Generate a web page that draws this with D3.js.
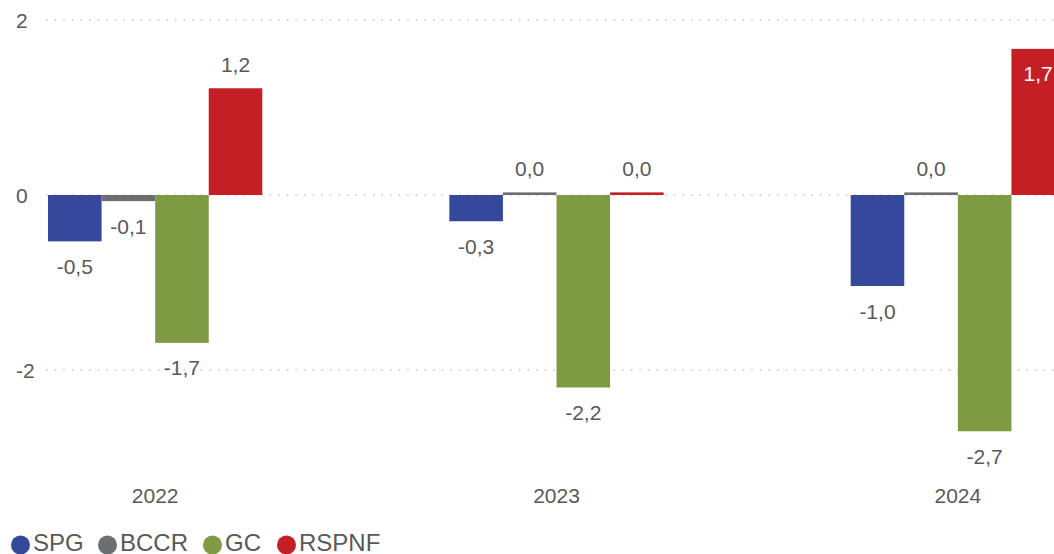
<!DOCTYPE html>
<html>
<head>
<meta charset="utf-8">
<title>SPG BCCR GC RSPNF</title>
<script src="https://d3js.org/d3.v7.min.js"></script>
<style>
  body { margin: 0; background: #fff; }
  svg text { font-family: Arial, "Liberation Sans", sans-serif; fill: #595959; }
</style>
</head>
<body>
<script>
// data
var years = ["2022", "2023", "2024"];
var series = ["SPG", "BCCR", "GC", "RSPNF"];
var colors = ["#35489c", "#6d6e72", "#7e9a42", "#c51f26"];
var SPG   = [-0.53, -0.30, -1.04];
var BCCR  = [-0.07,  0.03,  0.03];
var GC    = [-1.69, -2.20, -2.70];
var RSPNF = [ 1.22,  0.03,  1.67];
var yTicks = [-2, 0, 2];

var values = [SPG, BCCR, GC, RSPNF];

var w = 1054, h = 554;

var svg = d3.select("body").append("svg")
  .attr("width", w)
  .attr("height", h);

var y = d3.scaleLinear()
  .domain([-2, 2])
  .range([370, 20]);

var x0 = d3.scaleBand()
  .domain(years)
  .range([48, 1065])
  .paddingInner(0.466)
  .paddingOuter(0);

var x1 = d3.scaleBand()
  .domain(series)
  .range([0, x0.bandwidth()]);

// gridlines
svg.append("g").selectAll("line")
  .data(yTicks)
  .enter().append("line")
  .attr("x1", 46)
  .attr("x2", w)
  .attr("y1", function(d) { return y(d); })
  .attr("y2", function(d) { return y(d); })
  .attr("stroke", "#c4c4c4")
  .attr("stroke-width", 1.4)
  .attr("stroke-dasharray", "1.5 7.1");

// y tick labels
svg.append("g").selectAll("text")
  .data(yTicks)
  .enter().append("text")
  .attr("x", 16)
  .attr("y", function(d) { return y(d) + 7.5; })
  .attr("font-size", "21px")
  .text(function(d) { return d; });

var fmt = function(v) {
  var s = (Math.round(Math.abs(v) * 10) / 10).toFixed(1).replace(".", ",");
  return (v < 0 && Math.round(Math.abs(v) * 10) > 0 ? "-" : "") + s;
};

// bars and labels
var flat = [];
series.forEach(function(s, si) {
  years.forEach(function(yr, yi) {
    flat.push({ s: s, si: si, yr: yr, v: values[si][yi] });
  });
});

var bars = svg.append("g");
bars.selectAll("rect")
  .data(flat)
  .enter().append("rect")
  .attr("x", function(d) { return x0(d.yr) + x1(d.s); })
  .attr("width", x1.bandwidth())
  .attr("y", function(d) { return y(Math.max(0, d.v)); })
  .attr("height", function(d) { return Math.abs(y(d.v) - y(0)); })
  .attr("fill", function(d) { return colors[d.si]; });

var inside = function(d) { return d.v >= 0 && y(d.v) - 32 < y(2); };

bars.selectAll("text")
  .data(flat)
  .enter().append("text")
  .attr("text-anchor", "middle")
  .attr("font-size", "21px")
  .attr("x", function(d) { return x0(d.yr) + x1(d.s) + x1.bandwidth() / 2; })
  .attr("y", function(d) {
    var top = y(d.v);
    if (d.v >= 0 && !inside(d)) return top - 16.5;
    return top + 32.5;
  })
  .style("fill", function(d) { return inside(d) ? "#fff" : "#595959"; })
  .text(function(d) { return fmt(d.v); });

// year labels
svg.append("g").selectAll("text")
  .data(years)
  .enter().append("text")
  .attr("text-anchor", "middle")
  .attr("font-size", "21px")
  .attr("x", function(d) { return x0(d) + x0.bandwidth() / 2; })
  .attr("y", 503)
  .text(function(d) { return d; });

// legend
var legX = [20.5, 107.5, 212.5, 286.5];
var leg = svg.append("g").selectAll("g")
  .data(series)
  .enter().append("g")
  .attr("transform", function(d, i) { return "translate(" + legX[i] + ",545)"; });

leg.append("circle")
  .attr("r", 9.5)
  .attr("fill", function(d, i) { return colors[i]; });

leg.append("text")
  .attr("x", 12.5)
  .attr("y", 5.5)
  .attr("font-size", "24px")
  .text(function(d) { return d; });
</script>
</body>
</html>
